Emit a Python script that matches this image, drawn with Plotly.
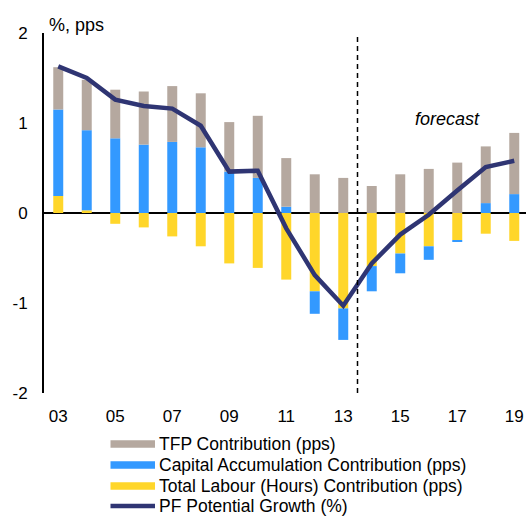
import plotly.graph_objects as go

years = list(range(3, 20))
year_labels = ["03", "05", "07", "09", "11", "13", "15", "17", "19"]
tfp = [0.47, 0.56, 0.54, 0.59, 0.62, 0.60, 0.55, 0.69, 0.54, 0.43, 0.39, 0.30, 0.43, 0.49, 0.56, 0.63, 0.68]
capital = [0.96, 0.89, 0.83, 0.76, 0.79, 0.73, 0.46, 0.39, 0.07, -0.25, -0.35, -0.28, -0.22, -0.15, -0.02, 0.11, 0.21]
labour = [0.19, 0.03, -0.12, -0.16, -0.26, -0.37, -0.56, -0.61, -0.74, -0.87, -1.06, -0.59, -0.45, -0.37, -0.30, -0.23, -0.31]
potential = [1.63, 1.50, 1.26, 1.19, 1.16, 0.97, 0.46, 0.47, -0.17, -0.69, -1.03, -0.56, -0.24, -0.02, 0.25, 0.51, 0.58]
legend_names = ["TFP Contribution (pps)", "Capital Accumulation Contribution (pps)",
                "Total Labour (Hours) Contribution (pps)", "PF Potential Growth (%)"]

C_TFP = "#B5A89F"
C_CAP = "#3399FF"
C_LAB = "#FFD62A"
C_PF = "#2F3573"
FONT = "Liberation Sans, Arial, sans-serif"

W, H = 526, 517
L, R, T, B = 44, 0, 33, 124
PW, PH = W - L - R, H - T - B

def px(xp):
    return (xp - L) / PW

def py(yp):
    return (H - B - yp) / PH

fig = go.Figure()
bw = 0.35
for name, vals, col in [(legend_names[2], labour, C_LAB),
                        (legend_names[1], capital, C_CAP),
                        (legend_names[0], tfp, C_TFP)]:
    fig.add_trace(go.Bar(x=years, y=vals, name=name, marker_color=col, width=bw,
                         marker_line_width=0, showlegend=False))

fig.add_trace(go.Scatter(x=years, y=potential, mode="lines", name=legend_names[3],
                         line=dict(color=C_PF, width=4.5), showlegend=False))

fig.add_shape(type="line", x0=13.5, x1=13.5, y0=-2, y1=2, xref="x", yref="y",
              line=dict(color="black", width=1.5, dash="5px,4px"))

fig.add_annotation(x=16.67, y=1.04, xref="x", yref="y", text="<i>forecast</i>",
                   showarrow=False, font=dict(size=18, color="black", family=FONT))
fig.add_annotation(x=px(47), y=py(25), xref="paper", yref="paper", text="%, pps",
                   xanchor="left", yanchor="middle", showarrow=False,
                   font=dict(size=18, color="black", family=FONT))

# legend (drawn manually to match the compact row spacing)
rows_y = [444, 465, 486, 506]
sym_cols = [C_TFP, C_CAP, C_LAB, C_PF]
sym_w = [7.5, 7.5, 7.5, 4.5]
for name, yc, col, lw in zip(legend_names, rows_y, sym_cols, sym_w):
    fig.add_shape(type="line", xref="paper", yref="paper", x0=px(110.5), x1=px(155),
                  y0=py(yc), y1=py(yc), line=dict(color=col, width=lw))
    fig.add_annotation(x=px(158), y=py(yc), xref="paper", yref="paper", text=name,
                       xanchor="left", yanchor="middle", showarrow=False, borderpad=0,
                       font=dict(size=17.5, color="black", family=FONT))

fig.update_layout(
    width=W, height=H,
    margin=dict(l=L, r=R, t=T, b=B),
    paper_bgcolor="white", plot_bgcolor="white",
    barmode="relative", showlegend=False,
    font=dict(family=FONT, size=17, color="black"),
)
fig.update_xaxes(range=[2.5, 2.5 + PW / 28.5], tickmode="array", tickvals=[3, 5, 7, 9, 11, 13, 15, 17, 19],
                 ticktext=year_labels, showgrid=False, zeroline=False, showline=False,
                 ticks="", ticklabelstandoff=11, tickfont=dict(size=17), automargin=False)
fig.update_yaxes(range=[-2, 2], tickvals=[-2, -1, 0, 1, 2], ticktext=["-2", "-1", "0", "1", "2"],
                 showgrid=False, zeroline=True, zerolinecolor="black", zerolinewidth=2,
                 showline=True, linecolor="black", linewidth=2, ticks="", ticklabelstandoff=11,
                 tickfont=dict(size=17), automargin=False)

fig.write_html("out.html", config={"displayModeBar": False},
               post_script="document.body.style.margin='0';document.body.style.overflow='hidden';")
